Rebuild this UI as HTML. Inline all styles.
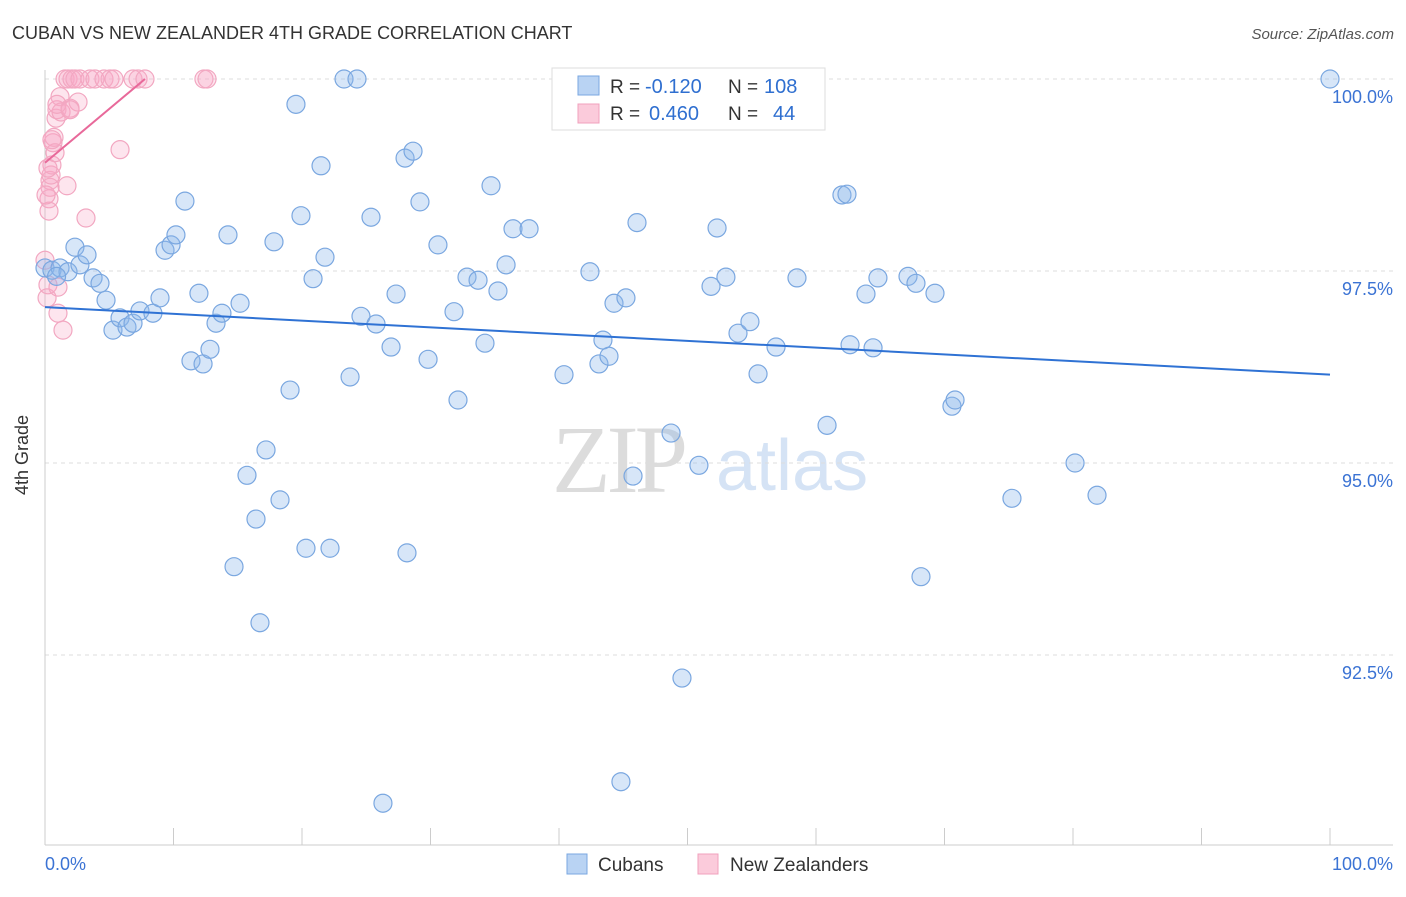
<!DOCTYPE html>
<html><head><meta charset="utf-8"><style>
body{margin:0;background:#fff;font-family:"Liberation Sans",sans-serif}
</style></head><body>
<svg width="1406" height="892" xmlns="http://www.w3.org/2000/svg" id="chart">
<text x="12" y="39" font-size="18" fill="#333">CUBAN VS NEW ZEALANDER 4TH GRADE CORRELATION CHART</text>
<text x="1394" y="39" font-size="15" fill="#555" font-style="italic" text-anchor="end">Source: ZipAtlas.com</text>
<g>
<text x="552" y="492" font-size="96" font-family="Liberation Serif" fill="#dcdcdc" letter-spacing="-4">ZIP</text>
<text x="716" y="490" font-size="72" fill="#d5e3f5">atlas</text>
</g>
<g id="grid"></g>
<g id="axes"></g>
<g id="pts"></g>
<g id="trends"></g>
<text x="28" y="455" font-size="18" fill="#333" transform="rotate(-90 28 455)" text-anchor="middle">4th Grade</text>
<g>
<rect x="552" y="68" width="273" height="62" fill="#fff" stroke="#ddd"/>
<rect x="578" y="76" width="21" height="19" fill="#b9d3f3" stroke="#7aa7e0"/>
<rect x="578" y="104" width="21" height="19" fill="#fbcbdb" stroke="#f0a0bc"/>
<text x="610" y="93" font-size="19" fill="#333">R =</text>
<text x="645" y="93" font-size="20" fill="#2f6fd0">-0.120</text>
<text x="728" y="93" font-size="19" fill="#333">N =</text>
<text x="764" y="93" font-size="20" fill="#2f6fd0">108</text>
<text x="610" y="120" font-size="19" fill="#333">R =</text>
<text x="649" y="120" font-size="20" fill="#2f6fd0">0.460</text>
<text x="728" y="120" font-size="19" fill="#333">N =</text>
<text x="773" y="120" font-size="20" fill="#2f6fd0">44</text>
</g>
<g>
<rect x="567" y="854" width="20" height="20" fill="#b9d3f3" stroke="#7aa7e0"/>
<text x="598" y="871" font-size="19" fill="#333">Cubans</text>
<rect x="698" y="854" width="20" height="20" fill="#fbcbdb" stroke="#f0a0bc"/>
<text x="730" y="871" font-size="19" fill="#333">New Zealanders</text>
</g>
</svg>
<script>
const yTicks=[100,97.5,95,92.5];
const yTickLabels=["100.0%","97.5%","95.0%","92.5%"];
const xTickLabels=["0.0%","100.0%"];
const cubanX=[0,0.54,1.17,1.79,2.33,2.72,3.27,3.74,4.28,4.75,5.29,5.84,6.38,6.85,7.39,8.4,8.95,9.34,9.81,10.19,10.89,11.36,11.98,12.3,12.84,13.31,13.77,14.24,15.18,15.72,16.42,14.71,16.73,17.2,17.82,18.29,19.07,19.53,19.92,20.31,20.86,21.48,21.79,22.18,23.27,23.74,24.28,24.59,25.37,25.76,26.93,27.32,28.02,28.17,28.64,29.18,29.81,30.58,31.83,32.14,32.84,33.7,34.24,34.71,35.25,35.88,36.42,37.67,40.39,42.41,43.11,43.42,43.89,44.28,45.21,45.76,46.07,48.72,49.57,50.89,51.83,52.3,52.99,53.93,54.86,55.49,56.89,58.52,60.86,62.02,62.41,62.65,63.89,64.44,64.82,67.16,67.78,68.17,69.26,70.58,70.82,75.25,80.16,81.87,44.82,26.3,100,0.9];
const cubanY=[97.54,97.51,97.54,97.49,97.81,97.58,97.71,97.41,97.34,97.12,96.73,96.89,96.77,96.82,96.98,96.95,97.15,97.77,97.84,97.97,98.41,96.33,97.21,96.29,96.48,96.82,96.95,97.97,97.08,94.84,94.27,93.65,92.92,95.17,97.88,94.52,95.95,99.67,98.22,93.89,97.4,98.87,97.68,93.89,100,96.12,100,96.91,98.2,96.81,96.51,97.2,98.97,93.83,99.06,98.4,96.35,97.84,96.97,95.82,97.42,97.38,96.56,98.61,97.24,97.58,98.05,98.05,96.15,97.49,96.29,96.6,96.39,97.08,97.15,94.83,98.13,95.39,92.2,94.97,97.3,98.06,97.42,96.69,96.84,96.16,96.51,97.41,95.49,98.49,98.5,96.54,97.2,96.5,97.41,97.43,97.34,93.52,97.21,95.74,95.82,94.54,95,94.58,90.85,90.57,100,97.43];
const nzX=[0.16,0.23,0.31,0.31,0.39,0.39,0.47,0.54,0.62,0.7,0.78,0.86,0.93,1.01,1.01,1.17,1.25,1.4,1.56,1.71,1.79,1.95,2.1,2.33,2.57,2.72,3.19,3.5,3.89,4.59,5.06,5.37,5.84,6.85,7.24,7.78,12.37,12.61,0,0.08,0.23,0.93,0.54,1.95];
const nzY=[97.15,97.32,98.44,98.28,98.68,98.59,98.75,98.88,99.17,99.24,99.04,99.49,99.6,96.95,97.29,99.77,99.57,96.73,100,98.61,100,99.62,100,100,99.7,100,98.19,100,100,100,100,100,99.08,100,100,100,100,100,97.64,98.49,98.84,99.67,99.21,99.6];
const cubanTrend=[[0,97.03],[100,96.15]];
const nzTrend=[[0,98.91],[7.78,100]];
const NS="http://www.w3.org/2000/svg";
const X0=45,X1=1330,Y100=79,PPU=76.8;
const sx=v=>X0+(X1-X0)*v/100;
const sy=v=>Y100+(100-v)*PPU;
function mk(tag,attrs,parent){const e=document.createElementNS(NS,tag);for(const k in attrs)e.setAttribute(k,attrs[k]);parent.appendChild(e);return e;}
const grid=document.getElementById('grid'),axes=document.getElementById('axes');
yTicks.forEach((t,i)=>{
 const l=mk('line',{x1:45,x2:1393,y1:sy(t),y2:sy(t),stroke:'#ddd','stroke-dasharray':'4,4'},grid);
 
 
 const tx=mk('text',{x:1393,y:sy(t)+24,'font-size':18,fill:'#3b73d4','text-anchor':'end'},axes);
 tx.textContent=yTickLabels[i];
 
 
});
const ax=mk('line',{x1:45,x2:1393,y1:845,y2:845,stroke:'#ccc'},axes);


const ay=mk('line',{x1:45,x2:45,y1:70,y2:845,stroke:'#ccc'},axes);


for(let i=0;i<=10;i++){
 const t=mk('line',{x1:sx(i*10),x2:sx(i*10),y1:828,y2:845,stroke:'#ccc'},axes);
 
 
}
const xl0=mk('text',{x:45,y:870,'font-size':18,fill:'#3b73d4'},axes);xl0.textContent=xTickLabels[0];


const xl1=mk('text',{x:1393,y:870,'font-size':18,fill:'#3b73d4','text-anchor':'end'},axes);xl1.textContent=xTickLabels[1];


const pts=document.getElementById('pts');
nzX.forEach((x,i)=>{
 const c=mk('circle',{cx:sx(x),cy:sy(nzY[i]),r:9,fill:'rgba(248,170,198,0.3)',stroke:'#f2a7c1','stroke-width':1.2},pts);
 
 
});
cubanX.forEach((x,i)=>{
 const c=mk('circle',{cx:sx(x),cy:sy(cubanY[i]),r:9,fill:'rgba(140,182,235,0.35)',stroke:'#7aa7e0','stroke-width':1.2},pts);
 
 
});
const tr=document.getElementById('trends');
const tb=mk('line',{x1:sx(cubanTrend[0][0]),y1:sy(cubanTrend[0][1]),x2:sx(cubanTrend[1][0]),y2:sy(cubanTrend[1][1]),stroke:'#2f72d4','stroke-width':2},tr);


const tp=mk('line',{x1:sx(nzTrend[0][0]),y1:sy(nzTrend[0][1]),x2:sx(nzTrend[1][0]),y2:sy(nzTrend[1][1]),stroke:'#e8699a','stroke-width':2},tr);


</script>
</body></html>
